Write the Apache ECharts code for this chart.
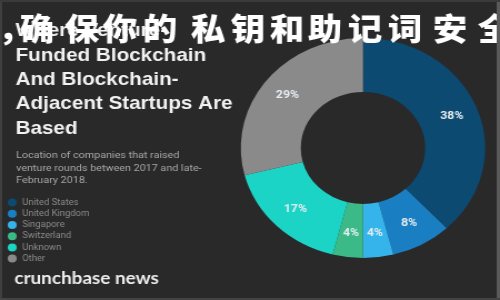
<!DOCTYPE html>
<html>
<head>
<meta charset="utf-8">
<script src="https://cdn.jsdelivr.net/npm/echarts@6/dist/echarts.min.js"></script>
<style>
html,body{margin:0;padding:0;background:#292929;overflow:hidden;}
#wrap{width:500px;height:300px;position:relative;overflow:hidden;background:#292929;}
#chart{width:450px;height:300px;position:absolute;left:0;top:0;transform:scaleX(1.1111);transform-origin:0 0;}
</style>
</head>
<body>
<div id="wrap"><div id="chart"></div></div>
<script>
var categories = ['United States', 'United Kingdom', 'Singapore', 'Switzerland', 'Unknown', 'Other'];
var shares = [38, 8, 4, 4, 17, 29];
var colors = ['#0c4a71', '#1a7fc2', '#35b4ec', '#3bba88', '#1cd4c6', '#8a8a8a'];
var titleLines = ['Where Venture-', 'Funded Blockchain', 'And Blockchain-', 'Adjacent Startups Are', 'Based'];
var subtitleLines = ['Location of companies that raised', 'venture rounds between 2017 and late-', 'February 2018.'];
var brand = 'crunchbase news';
var overlay = '，确保你的私钥和助记词安全';

var chart = echarts.init(document.getElementById('chart'), null, {renderer: 'canvas'});
var graphics = [];
var titleY = [30, 55, 79, 103.5, 128];
titleLines.forEach(function (t, i) {
  graphics.push({type: 'text', left: 14, top: titleY[i] - 9, z: 10,
    style: {text: t, fill: '#f2f2f2', font: 'bold 18.6px "Liberation Sans"'}});
});
var subY = [157, 169.5, 182];
subtitleLines.forEach(function (t, i) {
  graphics.push({type: 'text', left: 14.5, top: subY[i] - 6, z: 10,
    style: {text: t, fill: '#a8a8a8', font: '9.7px Roboto'}});
});
graphics.push({type: 'text', left: 13, top: 270, z: 10,
  style: {text: brand, fill: '#ececec', font: 'bold 17px Lato'}});
// overlay characters (centres)
var charCenters = [15, 37, 82, 120, 160, 208, 248, 287, 325, 365, 405, 450, 495];
var chars = Array.from(overlay);
chars.forEach(function (ch, i) {
  graphics.push({type: 'text', x: charCenters[i] * 0.9, y: 28.5, z: 20,
    style: {text: ch, fill: '#ffffff', font: '900 31px "Noto Sans CJK SC"', textAlign: 'center', textVerticalAlign: 'middle'}});
});
// frame edges
graphics.push({type: 'rect', left: 0, top: 0, z: 30, shape: {width: 2, height: 300}, style: {fill: '#3f3f3f'}});
graphics.push({type: 'rect', right: 0, top: 0, z: 30, shape: {width: 3, height: 300}, style: {fill: '#5a5a5a'}});
graphics.push({type: 'rect', left: 0, bottom: 0, z: 30, shape: {width: 450, height: 2}, style: {fill: '#444444'}});
graphics.push({type: 'rect', left: 0, top: 0, z: 30, shape: {width: 450, height: 2}, style: {fill: '#3a3a3a'}});

chart.setOption({
  backgroundColor: '#292929',
  animation: false,
  color: colors,
  legend: {
    orient: 'vertical', left: 7, top: 197,
    icon: 'circle', itemWidth: 8, itemHeight: 9, itemGap: 0,
    textStyle: {color: '#8a8a8a', fontSize: 8.5, fontFamily: 'Roboto', lineHeight: 11.2},
    selectedMode: false, padding: 0,
    data: categories
  },
  graphic: graphics,
  series: [{
    type: 'pie',
    center: [326.7, 148],
    radius: [56, 110],
    startAngle: 90,
    clockwise: true,
    avoidLabelOverlap: false,
    label: {show: true, position: 'inside', formatter: '{c}%', color: '#e6eef2', fontSize: 11, fontWeight: 'bold', fontFamily: 'Roboto'},
    labelLine: {show: false},
    itemStyle: {borderWidth: 0},
    emphasis: {disabled: true},
    data: categories.map(function (c, i) { return {name: c, value: shares[i]}; })
  }]
});
</script>
</body>
</html>
